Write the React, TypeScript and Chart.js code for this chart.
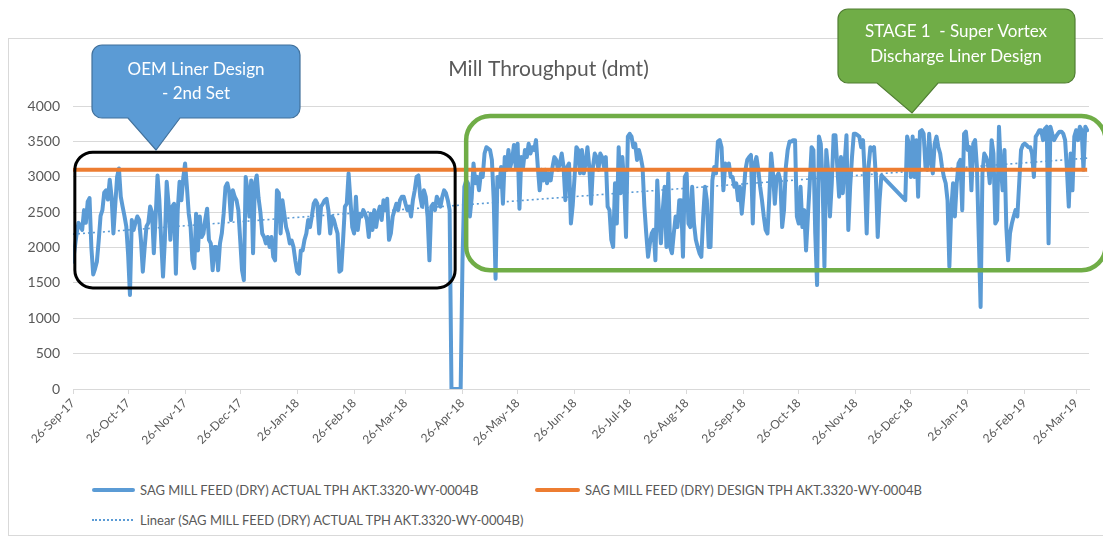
import { useEffect, useRef } from "react";
import { Chart, registerables } from "chart.js";

Chart.register(...registerables);

const FONT = "Lato, 'Open Sans', sans-serif";
const TEXT = "#595959";
const BLUE = "#5B9BD5";
const ORANGE = "#ED7D31";
const GREEN = "#70AD47";

// x axis: days since 26-Sep-17
const tickDays = [0, 30, 61, 91, 122, 153, 181, 212, 242, 273, 303, 334, 365, 395, 426, 456, 487, 518, 546];
const tickLabels = [
  "26-Sep-17", "26-Oct-17", "26-Nov-17", "26-Dec-17", "26-Jan-18", "26-Feb-18", "26-Mar-18",
  "26-Apr-18", "26-May-18", "26-Jun-18", "26-Jul-18", "26-Aug-18", "26-Sep-18", "26-Oct-18",
  "26-Nov-18", "26-Dec-18", "26-Jan-19", "26-Feb-19", "26-Mar-19",
];

// daily SAG mill feed (dry) actual TPH, one value per day from 26-Sep-17 (null = no data)
const actualTph: (number | null)[] = [
  1800, 2000, 2200, 2350, 2300, 2250, 2530, 2350, 2650, 2700,
  2000, 1620, 1700, 1800, 2100, 2450, 2530, 2780, 2810, 2680,
  2960, 2720, 2200, 2600, 3000, 3120, 2720, 2580, 2450, 2300,
  1900, 1330, 2390, 2250, 2350, 2440, 2390, 2100, 1660, 2000,
  2300, 2350, 2580, 2500, 1920, 2440, 3020, 2670, 2100, 1590,
  2110, 2930, 2620, 2110, 2580, 2620, 1630, 2530, 2930, 2670,
  2980, 3190, 2860, 2480, 2290, 1820, 1710, 2480, 1960, 2440,
  2150, 2200, 2400, 2550, 2110, 2060, 1680, 2010, 2010, 1680,
  2060, 2200, 2480, 2860, 2910, 2790, 2390, 2810, 2720, 2670,
  2530, 2110, 1680, 1540, 3000, 2810, 2440, 2950, 1920, 2900,
  3020, 2700, 2500, 2200, 2150, 2060, 2150, 2010, 2150, 1870,
  1820, 2810, 2770, 2200, 2670, 2480, 2290, 2200, 2060, 2100,
  2010, 1820, 1660, 1630, 1960, 1960, 2110, 2200, 2390, 2290,
  2440, 2620, 2670, 2620, 2200, 2580, 2620, 2670, 2690, 2530,
  2200, 2440, 2390, 2290, 2200, 1660, 1680, 2110, 2580, 2620,
  3050, 2670, 2290, 2200, 2720, 2250, 2480, 2440, 2530, 2480,
  2390, 2150, 2480, 2250, 2530, 2290, 2480, 2580, 2390, 2670,
  2530, 2690, 2110, 2200, 2440, 2530, 2620, 2530, 2670, 2720,
  2720, 2620, 2530, 2580, 2440, 2670, 2810, 3000, 3020, 2720,
  2580, 2810, 2720, 2440, 1820, 2580, 2620, 2530, 2720, 2670,
  2580, 2720, 2810, 2770, 2670, 2530, 0, 0, 0, 0,
  0, 0, 1820, 2860, 2950, 2910, 2440, 2700, 3190, 2910,
  3000, 2810, 3050, 3000, 3330, 3420, 3400, 3380, 3240, 2670,
  1560, 3000, 2860, 3140, 2620, 3280, 3100, 3380, 3140, 3240,
  3450, 3140, 3470, 2550, 3280, 3140, 3380, 3280, 3470, 3330,
  3420, 3380, 3520, 3140, 2810, 3100, 2950, 3100, 2910, 3050,
  2950, 3140, 3280, 3240, 3100, 3190, 3330, 3140, 2670, 3140,
  3190, 2340, 2600, 3000, 3420, 3380, 3050, 3380, 3050, 3190,
  3420, 3140, 2620, 3140, 3330, 3280, 3100, 3330, 3280, 3140,
  3280, 2580, 2530, 2110, 2010, 2910, 2340, 3420, 2770, 3280,
  2910, 2150, 3570, 3610, 3570, 3420, 3470, 3240, 3380, 3280,
  3140, 2580, 2200, 1870, 2060, 2200, 2250, 1820, 2950, 2440,
  2060, 2530, 2860, 2010, 3050, 2010, 1920, 2200, 2440, 2290,
  2670, 2670, 1870, 3000, 3050, 2340, 2290, 2860, 2340, 2110,
  2010, 1920, 1870, 2440, 2860, 2670, 2010, 2010, 2950, 3140,
  3050, 3500, 3520, 3420, 2810, 3190, 3140, 3190, 3000, 3000,
  2860, 2910, 2670, 2860, 2480, 2770, 3100, 3240, 3280, 3310,
  2340, 3190, 3280, 3100, 2860, 2670, 2440, 2250, 2200, 2720,
  3330, 3050, 2620, 3000, 3050, 2950, 2290, 2530, 3140, 3380,
  3500, 3500, 3520, 3520, 2440, 2340, 2860, 2290, 2530, 1960,
  2440, 2910, 3420, 3380, 2200, 1470, 3570, 3470, 2910, 1730,
  3380, 3100, 2440, 2910, 3590, 3590, 3140, 2720, 3280, 2770,
  3190, 3590, 2250, 2860, 3280, 3610, 3610, 3590, 3570, 3420,
  3520, 3000, 2200, 3140, 3420, 3380, 3420, 3000, 2150, 2670,
  3020, null, null, null, null, null, null, null, null, null,
  null, null, null, 2670, 3570, 3470, 3000, 3570, 3000, 3520,
  2720, 3640, 3660, 3610, 3140, 3100, 3610, 3240, 3050, 3470,
  3570, 3420, 3330, 3140, 3000, 2910, 2670, 1730, 2530, 2910,
  2440, 2910, 3190, 3240, 2530, 3610, 3640, 3380, 3420, 2810,
  3470, 3520, 3140, 2150, 1160, 3050, 3330, 3280, 3190, 2910,
  3520, 3330, 2340, 2390, 3710, 3140, 2810, 3380, 2290, 1820,
  2200, 2340, 2440, 2530, 2440, 2910, 3380, 3450, 3470, 3450,
  3420, 3420, 3330, 3000, 3570, 3610, 3660, 3660, 3520, 3680,
  3710, 2060, 3710, 3610, 3520, 3570, 3610, 3640, 3640, 3610,
  3520, 3100, 2580, 3330, 2810, 3570, 3660, 3520, 3710, 3660,
  3100, 3710, 3660,
];

const dayLabels = actualTph.map((_, i) => i);

const designTph = 3100;
const designDays = [0, 552];
const trendDays = [0, 552];
const trendTph = [2190, 3265];

const seriesNames = [
  "SAG MILL FEED (DRY) ACTUAL TPH AKT.3320-WY-0004B",
  "SAG MILL FEED (DRY) DESIGN TPH AKT.3320-WY-0004B",
  "Linear (SAG MILL FEED (DRY) ACTUAL TPH AKT.3320-WY-0004B)",
];

// annotation frames in data units (day, tph)
const oemFrame = { fromDay: 1, toDay: 208, high: 3350, low: 1430 };
const stageFrame = { fromDay: 214, toDay: 562, high: 3860, low: 1680 };

function roundRect(ctx: CanvasRenderingContext2D, l: number, t: number, r: number, b: number, rad: number) {
  ctx.beginPath();
  ctx.moveTo(l + rad, t);
  ctx.lineTo(r - rad, t);
  ctx.arcTo(r, t, r, t + rad, rad);
  ctx.lineTo(r, b - rad);
  ctx.arcTo(r, b, r - rad, b, rad);
  ctx.lineTo(l + rad, b);
  ctx.arcTo(l, b, l, b - rad, rad);
  ctx.lineTo(l, t + rad);
  ctx.arcTo(l, t, l + rad, t, rad);
  ctx.closePath();
}

function callout(
  ctx: CanvasRenderingContext2D,
  l: number, t: number, r: number, b: number, rad: number,
  baseL: number, baseR: number, tipX: number, tipY: number,
  fill: string, stroke: string, lines: string[], cx: number, lineYs: number[], fontPx: number
) {
  ctx.save();
  ctx.beginPath();
  ctx.moveTo(l + rad, t);
  ctx.lineTo(r - rad, t);
  ctx.arcTo(r, t, r, t + rad, rad);
  ctx.lineTo(r, b - rad);
  ctx.arcTo(r, b, r - rad, b, rad);
  ctx.lineTo(baseR, b);
  ctx.lineTo(tipX, tipY);
  ctx.lineTo(baseL, b);
  ctx.lineTo(l + rad, b);
  ctx.arcTo(l, b, l, b - rad, rad);
  ctx.lineTo(l, t + rad);
  ctx.arcTo(l, t, l + rad, t, rad);
  ctx.closePath();
  ctx.fillStyle = fill;
  ctx.fill();
  ctx.lineWidth = 1.2;
  ctx.strokeStyle = stroke;
  ctx.stroke();
  ctx.fillStyle = "#ffffff";
  ctx.font = `${fontPx}px ${FONT}`;
  ctx.textAlign = "center";
  ctx.textBaseline = "middle";
  lines.forEach((s, i) => ctx.fillText(s, cx, lineYs[i]));
  ctx.restore();
}

const overlayPlugin = {
  id: "overlays",
  afterDatasetsDraw(chart: any) {
    const { ctx } = chart;
    const x = chart.scales.x;
    const y = chart.scales.y;
    ctx.save();
    roundRect(ctx, x.getPixelForValue(oemFrame.fromDay), y.getPixelForValue(oemFrame.high),
      x.getPixelForValue(oemFrame.toDay), y.getPixelForValue(oemFrame.low), 18);
    ctx.lineWidth = 3;
    ctx.strokeStyle = "#000000";
    ctx.stroke();
    roundRect(ctx, x.getPixelForValue(stageFrame.fromDay), y.getPixelForValue(stageFrame.high),
      x.getPixelForValue(stageFrame.toDay), y.getPixelForValue(stageFrame.low), 24);
    ctx.lineWidth = 4.5;
    ctx.strokeStyle = GREEN;
    ctx.stroke();
    ctx.restore();
  },
  afterDraw(chart: any) {
    const { ctx } = chart;
    callout(ctx, 84, 37, 292, 110, 10, 120, 172, 148, 142, BLUE, "#41719C",
      ["OEM Liner Design", "- 2nd Set"], 188, [62, 86], 17);
    callout(ctx, 830, 1, 1067, 75, 10, 869, 930, 904, 105, GREEN, "#507E32",
      ["STAGE 1  - Super Vortex", "Discharge Liner Design"], 948, [24, 49], 17);
  },
};

export default function App() {
  const canvasRef = useRef<HTMLCanvasElement | null>(null);

  useEffect(() => {
    if (!canvasRef.current) return;
    const chart = new Chart(canvasRef.current, {
      type: "line",
      data: {
        labels: dayLabels,
        datasets: [
          {
            label: seriesNames[0],
            data: actualTph,
            borderColor: BLUE,
            borderWidth: 4,
            pointRadius: 0,
            spanGaps: true,
            borderJoinStyle: "round",
            borderCapStyle: "round",
            order: 3,
          },
          {
            label: seriesNames[1],
            data: designDays.map((d) => ({ x: d, y: designTph })),
            borderColor: ORANGE,
            borderWidth: 4,
            pointRadius: 0,
            order: 1,
          },
          {
            label: seriesNames[2],
            data: trendDays.map((d, i) => ({ x: d, y: trendTph[i] })),
            borderColor: BLUE,
            borderWidth: 1.6,
            borderDash: [2, 3],
            pointRadius: 0,
            order: 2,
          },
        ],
      },
      options: {
        animation: false,
        responsive: false,
        maintainAspectRatio: false,
        layout: { padding: { left: 0, right: 19, top: 0, bottom: 0 } },
        plugins: {
          legend: { display: false },
          tooltip: { enabled: false },
          title: {
            display: true,
            text: "Mill Throughput (dmt)",
            color: TEXT,
            font: { family: FONT, size: 21, weight: "normal" },
            padding: { top: 49, bottom: 24 },
          },
        },
        scales: {
          x: {
            type: "linear",
            min: 0,
            max: 553,
            afterFit: (s: any) => { s.height = 79; },
            afterBuildTicks: (s: any) => { s.ticks = tickDays.map((v) => ({ value: v })); },
            ticks: {
              autoSkip: false,
              minRotation: 45,
              maxRotation: 45,
              color: TEXT,
              font: { family: FONT, size: 12 },
              padding: 2,
              callback: (_v: any, i: number) => tickLabels[i],
            },
            grid: { display: true, drawOnChartArea: false, drawTicks: true, tickLength: 5, color: "#D9D9D9" },
            border: { display: true, color: "#D9D9D9" },
          },
          y: {
            min: 0,
            max: 4000,
            afterFit: (s: any) => { s.width = 65; },
            ticks: {
              stepSize: 500,
              color: TEXT,
              font: { family: FONT, size: 14 },
              padding: 13,
              callback: (v: any) => String(v),
            },
            grid: { color: "#D9D9D9", drawTicks: false },
            border: { display: false },
          },
        },
      },
      plugins: [overlayPlugin],
    });
    return () => chart.destroy();
  }, []);

  const legendText: React.CSSProperties = {
    position: "absolute",
    font: `13px ${FONT}`,
    color: TEXT,
    lineHeight: "16px",
    whiteSpace: "nowrap",
  };

  return (
    <div style={{ position: "relative", width: 1100, height: 530 }}>
      <div
        style={{
          position: "absolute", left: 0, top: 30, width: 1100, height: 498,
          boxSizing: "border-box", border: "1px solid #D9D9D9",
        }}
      />
      <canvas ref={canvasRef} width={1100} height={460} style={{ position: "absolute", left: 0, top: 0 }} />
      <div style={{ position: "absolute", left: 84, top: 480, width: 43, height: 4, background: BLUE, borderRadius: 2 }} />
      <div style={{ ...legendText, left: 132, top: 474 }}>{seriesNames[0]}</div>
      <div style={{ position: "absolute", left: 527, top: 480, width: 45, height: 4, background: ORANGE, borderRadius: 2 }} />
      <div style={{ ...legendText, left: 577, top: 474 }}>{seriesNames[1]}</div>
      <div style={{ position: "absolute", left: 84, top: 511, width: 41, height: 0, borderTop: `2px dotted ${BLUE}` }} />
      <div style={{ ...legendText, left: 132, top: 504 }}>{seriesNames[2]}</div>
    </div>
  );
}
